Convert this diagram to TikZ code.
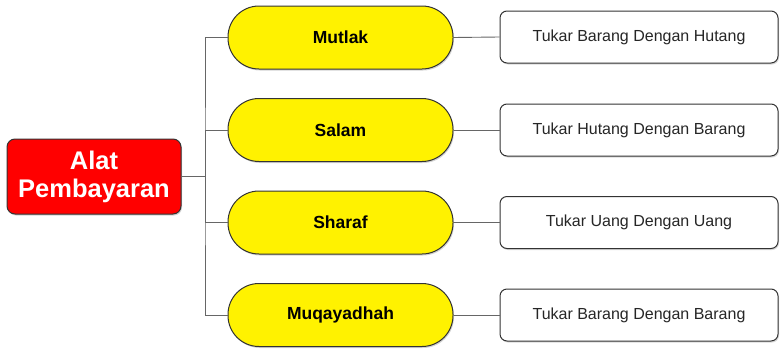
\documentclass[tikz,border=0pt]{standalone}
\usepackage{fontspec}
\setmainfont{Liberation Sans}
\usetikzlibrary{shadows}
\begin{document}
\begin{tikzpicture}[x=1pt,y=-1pt,
  rootbox/.style={draw=black!80,line width=1pt,fill=red,rounded corners=8pt,minimum width=174pt,minimum height=75pt,align=center,text=white,font=\bfseries\fontsize{25.5}{28}\selectfont,inner sep=1pt,drop shadow={shadow xshift=1pt,shadow yshift=-1.5pt,opacity=0.35}},
  pill/.style={draw=black!80,line width=1pt,fill=yellow,rounded corners=31pt,minimum width=225pt,minimum height=63pt,font=\bfseries\fontsize{17.5}{21}\selectfont,drop shadow={shadow xshift=1pt,shadow yshift=-1.5pt,opacity=0.35}},
  leaf/.style={draw=black!80,line width=1pt,fill=white,rounded corners=7pt,minimum width=278pt,minimum height=52pt,font=\fontsize{16}{19}\selectfont,text=black!85,drop shadow={shadow xshift=1pt,shadow yshift=-1.5pt,opacity=0.3}},
  link/.style={draw=black!60,line width=0.9pt}]
\useasboundingbox (0,0) rectangle (783,348);
\node[rootbox] (root) at (94,176.5) {Alat\\Pembayaran};
\node[pill] (p1) at (340.5,37.5) {Mutlak};
\node[pill] (p2) at (340.5,130) {Salam};
\node[pill] (p3) at (340.5,222.5) {Sharaf};
\node[pill] (p4) at (340.5,315) {Muqayadhah};
\node[leaf] (l1) at (639,37) {Tukar Barang Dengan Hutang};
\node[leaf] (l2) at (639,130) {Tukar Hutang Dengan Barang};
\node[leaf] (l3) at (639,222.5) {Tukar Uang Dengan Uang};
\node[leaf] (l4) at (639,315) {Tukar Barang Dengan Barang};
\coordinate (j) at (205,176.5);
\draw[link] (root.east) -- (j);
\draw[link] (p1.west) -| (j) |- (p4.west);
\draw[link] (j) |- (p2.west);
\draw[link] (j) |- (p3.west);
\foreach \i in {1,...,4} \draw[link] (p\i.east) -- (l\i.west);
\end{tikzpicture}
\end{document}
